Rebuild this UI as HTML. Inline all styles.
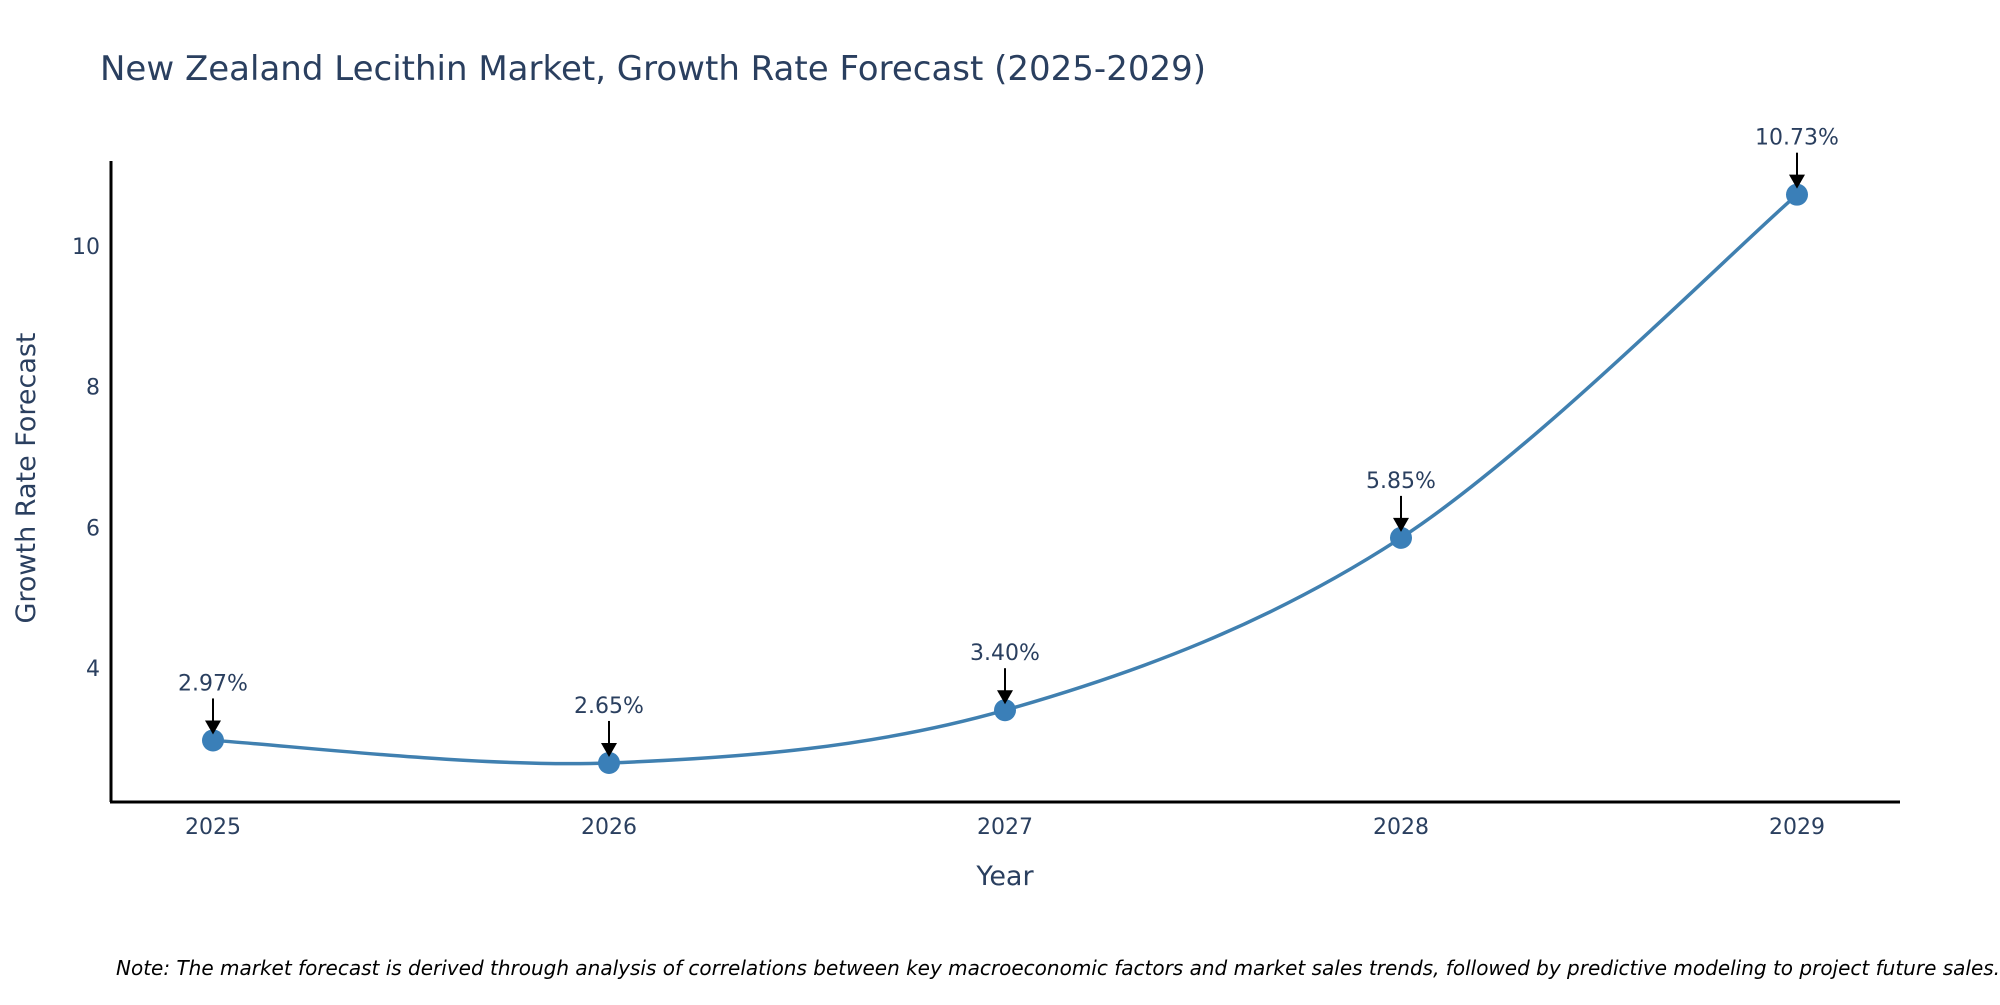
<!DOCTYPE html>
<html><head><meta charset="utf-8"><style>
body{margin:0;background:#fff;overflow:hidden;}
svg{font-family:"DejaVu Sans","Liberation Sans",sans-serif;}
</style></head><body>
<svg id="c" width="2000" height="1000">
<text x="100" y="80" font-size="34" fill="#2a3f5f">New Zealand Lecithin Market, Growth Rate Forecast (2025-2029)</text>
<line x1="111" y1="161" x2="111" y2="802" stroke="#000" stroke-width="3"/>
<line x1="110" y1="802" x2="1900" y2="802" stroke="#000" stroke-width="3"/>
<text transform="translate(35,478) rotate(-90)" text-anchor="middle" font-size="27" fill="#2a3f5f">Growth Rate Forecast</text>
<text x="1005" y="885" text-anchor="middle" font-size="27" fill="#2a3f5f">Year</text>
<text x="116" y="975" font-size="20" font-style="italic" fill="#000">Note: The market forecast is derived through analysis of correlations between key macroeconomic factors and market sales trends, followed by predictive modeling to project future sales.</text>
<g id="g"></g>
</svg>
<script>
const years=["2025","2026","2027","2028","2029"];
const values=[2.97,2.65,3.40,5.85,10.73];
const labels=["2.97%","2.65%","3.40%","5.85%","10.73%"];
const yTicks=[4,6,8,10];
const NS="http://www.w3.org/2000/svg";
const g=document.getElementById('g');
function xs(i){return 213+i*396;}
function ys(v){return 668-(v-4)*70.33;}
function mk(t,a){const e=document.createElementNS(NS,t);for(const k in a)e.setAttribute(k,a[k]);g.appendChild(e);return e;}
yTicks.forEach(v=>{const t=mk('text',{x:100,y:ys(v)+8,'text-anchor':'end','font-size':22,fill:'#2a3f5f'});t.textContent=v;

});
years.forEach((y,i)=>{const t=mk('text',{x:xs(i),y:834,'text-anchor':'middle','font-size':22,fill:'#2a3f5f'});t.textContent=y;

});
const P=values.map((v,i)=>[xs(i),ys(v)]);
let d=`M${P[0][0]},${P[0][1]}`;
for(let i=0;i<P.length-1;i++){const p0=P[i-1]||P[i],p1=P[i],p2=P[i+1],p3=P[i+2]||P[i+1];const k=1/6;
d+=` C${p1[0]+(p2[0]-p0[0])*k},${p1[1]+(p2[1]-p0[1])*k} ${p2[0]-(p3[0]-p1[0])*k},${p2[1]-(p3[1]-p1[1])*k} ${p2[0]},${p2[1]}`;}
const line=mk('path',{d:d,fill:'none',stroke:'#4080b0','stroke-width':3.5});


P.forEach((p,i)=>{
const c=mk('circle',{cx:p[0],cy:p[1],r:11,fill:'#3a7fb8'});


const a=mk('line',{x1:p[0],y1:p[1]-42,x2:p[0],y2:p[1]-16,stroke:'#000','stroke-width':2});


const h=mk('polygon',{points:`${p[0]-8},${p[1]-20} ${p[0]+8},${p[1]-20} ${p[0]},${p[1]-6}`,fill:'#000'});


const t=mk('text',{x:p[0],y:p[1]-50,'text-anchor':'middle','font-size':22,fill:'#2a3f5f'});t.textContent=labels[i];


});
</script>
</body></html>
